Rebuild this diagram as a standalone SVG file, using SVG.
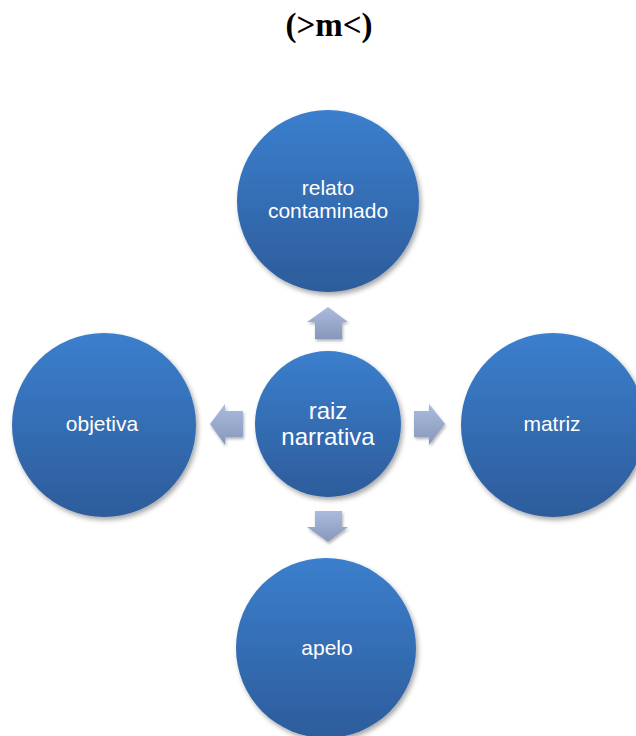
<svg xmlns="http://www.w3.org/2000/svg" width="636" height="736" viewBox="0 0 636 736">
  <defs>
    <linearGradient id="ballFill" x1="0" y1="0" x2="0" y2="1">
      <stop offset="0" stop-color="#3b7fcd"/>
      <stop offset="1" stop-color="#2d5c9b"/>
    </linearGradient>
    <linearGradient id="arrowFill" x1="0" y1="0" x2="0" y2="1">
      <stop offset="0" stop-color="#aabcdd"/>
      <stop offset="1" stop-color="#8797bb"/>
    </linearGradient>
    <filter id="shadow" x="-20%" y="-20%" width="140%" height="140%">
      <feDropShadow dx="2" dy="3" stdDeviation="2.5" flood-color="#000" flood-opacity="0.35"/>
    </filter>
    <filter id="arrowShadow" x="-30%" y="-30%" width="160%" height="160%">
      <feDropShadow dx="1" dy="2" stdDeviation="1.5" flood-color="#000" flood-opacity="0.3"/>
    </filter>
  </defs>
  <style>
    .ball { fill: url(#ballFill); filter: url(#shadow); }
    .label { fill: #ffffff; font-family: "Liberation Sans", Arial, sans-serif; font-size: 21px; text-anchor: middle; }
    .big { font-size: 24px; }
    .arrow { fill: url(#arrowFill); filter: url(#arrowShadow); }
    .title { font-family: "Liberation Serif", "Times New Roman", serif; font-weight: bold; font-size: 33px; text-anchor: middle; fill: #000; }
  </style>

  <rect width="636" height="736" fill="#ffffff"/>

  <text class="title" x="329" y="36">(&gt;m&lt;)</text>

  <!-- arrows pointing out from the centre -->
  <g id="connectors">
    <polygon class="arrow" points="328,307 348,322 342,322 342,339 315,339 315,322 307,322"/>
    <polygon class="arrow" points="328,542 348,527 342,527 342,511 315,511 315,527 307,527"/>
    <polygon class="arrow" points="210,424 225,404 225,411 243,411 243,437 225,437 225,445"/>
    <polygon class="arrow" points="445,424 429,404 429,411 414,411 414,437 429,437 429,445"/>
  </g>

  <g id="node-top">
    <circle class="ball" cx="328" cy="201" r="91"/>
    <text class="label" x="328" y="195">relato</text>
    <text class="label" x="328" y="218">contaminado</text>
  </g>

  <g id="node-center">
    <circle class="ball" cx="328" cy="424" r="73"/>
    <text class="label big" x="328" y="419">raiz</text>
    <text class="label big" x="328" y="445">narrativa</text>
  </g>

  <g id="node-left">
    <circle class="ball" cx="104" cy="425" r="92"/>
    <text class="label" x="102" y="431">objetiva</text>
  </g>

  <g id="node-right">
    <circle class="ball" cx="553" cy="425" r="92"/>
    <text class="label" x="552" y="431">matriz</text>
  </g>

  <g id="node-bottom">
    <circle class="ball" cx="326" cy="648" r="90"/>
    <text class="label" x="327" y="655">apelo</text>
  </g>
</svg>
